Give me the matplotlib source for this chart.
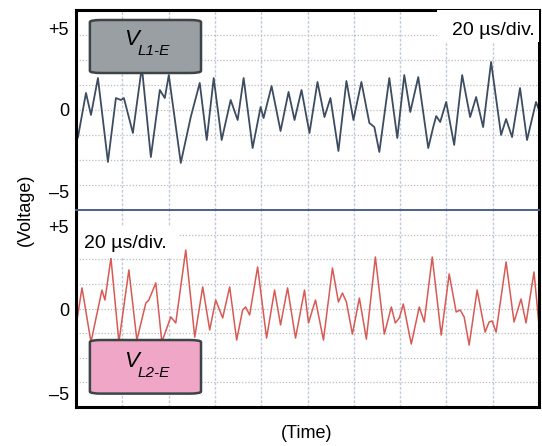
import numpy as np
import matplotlib
matplotlib.use("Agg")
import matplotlib.pyplot as plt
from matplotlib.patches import FancyBboxPatch, Rectangle

plt.rcParams['font.family'] = ['Liberation Sans', 'DejaVu Sans']

# waveform L1-E (time in us, voltage in V)
top_t = [0.0, 0.86, 4.31, 6.47, 9.48, 13.79, 17.24, 19.40, 20.69, 24.57, 28.45, 32.33, 36.21,
         38.36, 40.09, 45.26, 49.57, 53.45, 56.47, 59.48, 62.93, 66.81, 69.83, 72.41, 76.29,
         79.74, 81.03, 84.48, 88.36, 91.81, 94.40, 97.41, 100.86, 104.31, 107.33, 109.91,
         113.36, 116.81, 119.83, 123.28, 126.72, 128.88, 131.03, 135.34, 138.79, 141.81,
         144.40, 147.84, 152.16, 154.31, 155.60, 157.33, 159.91, 163.36, 166.81, 170.26,
         172.84, 175.86, 179.31, 183.62, 185.78, 188.36, 191.81, 194.83, 198.71, 200.0]
top_v = [-1.9, -1.65, 1.04, -0.30, 1.95, -3.17, 0.73, 0.61, 0.73, -1.40, 2.62, -2.87, 1.22,
         0.73, 2.13, -3.23, -0.43, 1.65, -1.83, 1.95, -1.83, 0.61, -0.61, 1.95, -2.32,
         0.18, -0.49, 1.46, -1.28, 1.10, -0.61, 1.22, -1.40, 1.71, -0.43, 0.73,
         -2.50, 1.77, -0.61, 1.71, -0.79, -1.04, -2.56, 1.95, -1.71, 2.13,
         -0.12, 2.01, -2.32, -1.04, -0.37, -0.73, 0.49, -2.13, 2.13, -0.43,
         0.79, -1.04, 2.93, -1.52, -0.55, -1.65, 1.34, -1.83, 0.49, 0.0]

# waveform L2-E
bot_t = [0.0, 0.43, 2.59, 6.47, 11.21, 12.50, 15.09, 18.53, 22.84, 26.29, 30.17, 31.47, 34.48,
         37.07, 40.95, 43.10, 47.41, 51.29, 54.74, 57.76, 60.34, 63.36, 66.38, 69.40, 71.98,
         73.28, 75.00, 78.45, 82.33, 85.78, 88.36, 91.38, 94.83, 98.71, 100.43, 103.45,
         106.90, 110.78, 113.36, 115.09, 116.81, 119.40, 122.41, 125.43, 129.31, 133.19,
         136.21, 137.93, 139.66, 141.38, 144.83, 148.28, 150.43, 153.88, 157.76, 161.21,
         164.22, 165.95, 167.67, 169.83, 173.28, 176.72, 178.45, 179.74, 181.47, 185.78,
         189.22, 192.24, 194.40, 197.84, 200.0]
bot_v = [-0.9, -0.60, 1.33, -1.93, 1.20, 0.60, 3.13, -1.93, 2.41, -1.81, 0.42, 0.60, 1.63,
         -1.93, -0.42, -0.78, 3.61, -1.63, 1.39, -1.20, 0.60, -0.48, 1.39, -1.81, 0.00,
         0.18, -0.30, 2.59, -1.69, 1.20, -0.90, 1.33, -1.69, 1.20, -0.78, 0.60,
         -1.81, 2.53, 0.48, 1.02, 0.48, -1.45, 0.72, -1.75, 3.19, -1.45,
         0.18, -0.78, -0.48, 0.36, -2.05, 0.18, -0.72, 3.19, -1.51, 2.17,
         -0.12, 0.00, -0.42, -2.11, 1.20, -1.33, -0.72, -0.66, -1.33, 2.89,
         -0.72, 0.66, -0.78, 2.29, -0.90]

yticks = [5, 0, -5]
ytick_labels = ["+5", "0", "\u20135"]
time_div = 20  # us per division
n_div_x = 10
n_div_y = 8
scale_label = "20 \u00b5s/div."

W, H = 542, 446
fig = plt.figure(figsize=(W / 100, H / 100), dpi=100)
L, R = 76 / W, 539 / W
ax2 = fig.add_axes([L, 1 - 407 / H, R - L, 197 / H])
ax1 = fig.add_axes([L, 1 - 210 / H, R - L, 200 / H])
ax1.patch.set_visible(False)

frame_lw = 2.2
for ax, t, v, col, ylim in [(ax1, top_t, top_v, '#3d4c60', (-6.1, 6.1)),
                            (ax2, bot_t, bot_v, '#d75a55', (-5.84, 6.02))]:
    ax.set_xlim(0, time_div * n_div_x)
    ax.set_ylim(*ylim)
    # scope grid
    for k in range(1, n_div_x):
        ax.axvline(k * time_div, color='#c2cbdb', lw=1.0, ls=(0, (2, 1.2)), zorder=1)
    span = ylim[1] - ylim[0]
    for k in range(1, n_div_y):
        ax.axhline(ylim[0] + k * span / n_div_y, color='#bdbdbd', lw=0.9, ls=(0, (1, 1.5)), zorder=1)
    ax.plot(t, v, color=col, lw=1.3 if ax is ax1 else 1.1, solid_joinstyle='round', zorder=2)
    ax.set_xticks([])
    ax.set_yticks(yticks)
    ax.set_yticklabels(ytick_labels, fontsize=13)
    ax.tick_params(axis='y', length=0, pad=5)
    for s in ['left', 'right', 'top', 'bottom']:
        ax.spines[s].set_linewidth(frame_lw)
        ax.spines[s].set_color('black')

ax1.spines['bottom'].set_color('#4d5f85')
ax1.spines['bottom'].set_linewidth(1.4)
ax2.spines['top'].set_visible(False)
ax1.spines['bottom'].set_zorder(5)

# label boxes
box1 = FancyBboxPatch((0.030, 0.685), 0.240, 0.265, boxstyle="round,pad=0,rounding_size=0.025",
                      transform=ax1.transAxes, fc='#9a9fa3', ec='#3c4448', lw=1.8, zorder=4,
                      mutation_aspect=200 / 464)
ax1.add_patch(box1)
ax1.text(0.104, 0.855, "V", transform=ax1.transAxes, fontsize=16, style='italic',
         ha='left', va='center', zorder=5)
ax1.text(0.133, 0.795, "L1-E", transform=ax1.transAxes, fontsize=11, style='italic',
         ha='left', va='center', zorder=5)

box2 = FancyBboxPatch((0.030, 0.068), 0.240, 0.272, boxstyle="round,pad=0,rounding_size=0.025",
                      transform=ax2.transAxes, fc='#f0a6c6', ec='#3c4448', lw=1.8, zorder=4,
                      mutation_aspect=197 / 464)
ax2.add_patch(box2)
ax2.text(0.104, 0.232, "V", transform=ax2.transAxes, fontsize=16, style='italic',
         ha='left', va='center', zorder=5)
ax2.text(0.133, 0.172, "L2-E", transform=ax2.transAxes, fontsize=11, style='italic',
         ha='left', va='center', zorder=5)

# time scale labels
ax1.add_patch(Rectangle((0.78, 0.84), 0.22, 0.16, transform=ax1.transAxes, fc='white',
                        ec='none', zorder=3))
ax1.text(0.99, 0.90, scale_label, transform=ax1.transAxes, fontsize=14,
         ha='right', va='center', zorder=5)
ax2.add_patch(Rectangle((0.006, 0.756), 0.214, 0.163, transform=ax2.transAxes, fc='white',
                        ec='none', zorder=3))
ax2.text(0.018, 0.832, scale_label, transform=ax2.transAxes, fontsize=14,
         ha='left', va='center', zorder=5)

fig.text(25 / W, 1 - 210 / H, "(Voltage)", rotation=90, fontsize=13, ha='center', va='center')
fig.text(307 / W, 1 - 433 / H, "(Time)", fontsize=13, ha='center', va='center')

fig.savefig("out.png", dpi=100)
